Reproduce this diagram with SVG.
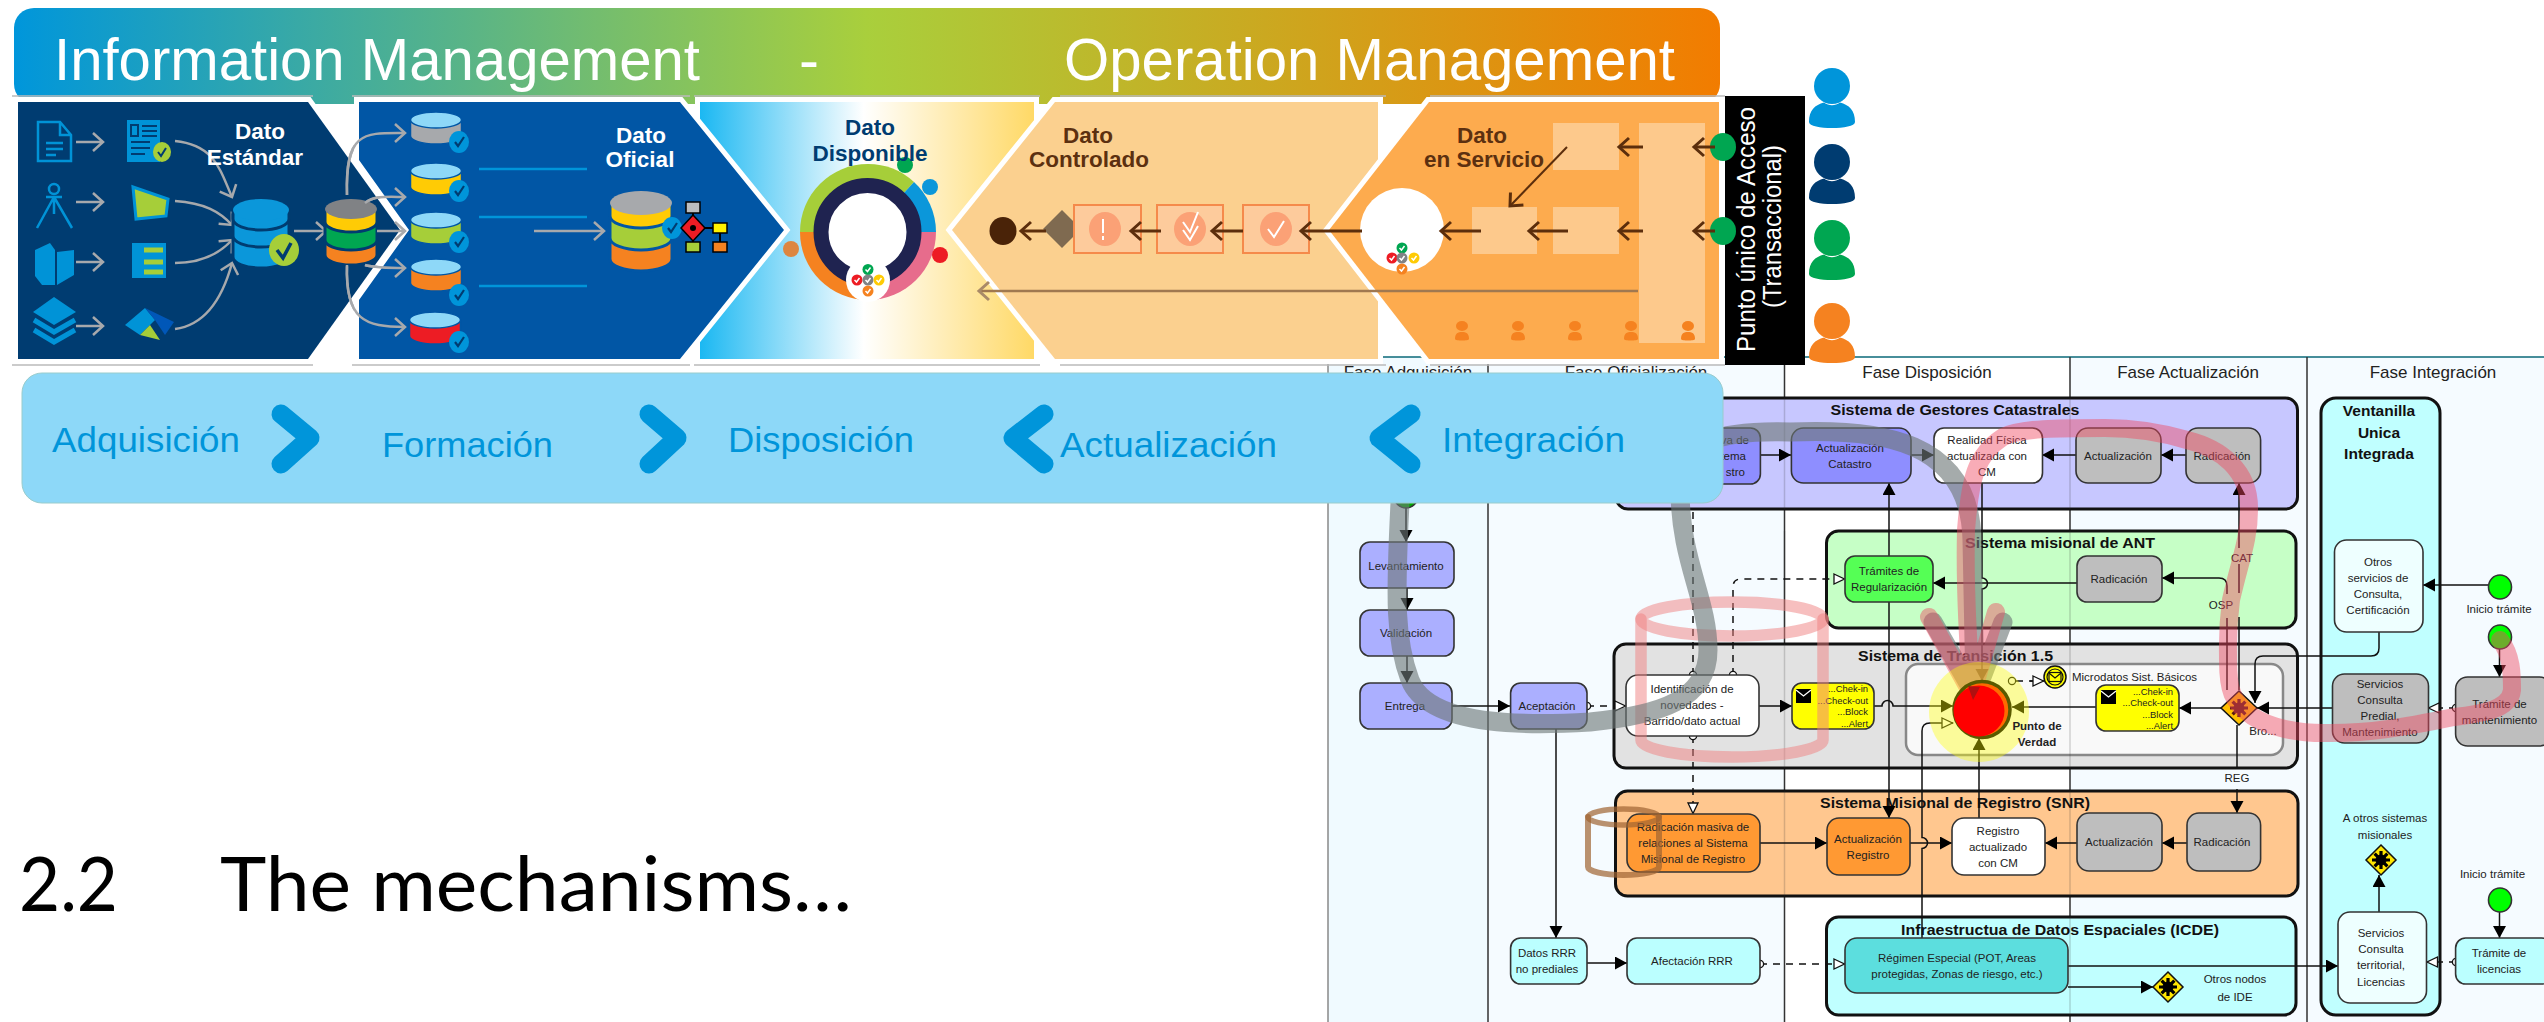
<svg xmlns="http://www.w3.org/2000/svg" width="2544" height="1022" viewBox="0 0 2544 1022">
<style>
text{font-family:"Liberation Sans",Arial,sans-serif}
.n{stroke:#333;stroke-width:1.6}
.sys{stroke:#111;stroke-width:3}
.t{font-size:11.5px;text-anchor:middle;fill:#222}
.tr{font-size:9.4px;text-anchor:end;fill:#222}
.tb{font-size:15.5px;font-weight:bold;text-anchor:middle;fill:#111}
.ph{font-size:17px;text-anchor:middle;fill:#222}
.big{font-size:60px;fill:#fff}
.stp{font-size:35px;fill:#0095DA}
.dw{font-size:22.5px;font-weight:bold;text-anchor:middle;fill:#fff}
.db{font-size:22.5px;font-weight:bold;text-anchor:middle;fill:#003C71}
.dbr{font-size:22.5px;font-weight:bold;text-anchor:middle;fill:#5C3010}
.lane{stroke:#333;stroke-width:1.5;fill:none}
.c{fill:none;stroke:#111;stroke-width:1.5}
.cd{fill:none;stroke:#111;stroke-width:1.5;stroke-dasharray:7 6}
.h{marker-end:url(#a)}
.o{marker-end:url(#ho)}
.s{marker-start:url(#ci)}
.ga{fill:none;stroke:#A7A9AC;stroke-width:2.5;marker-end:url(#og)}
.pw{stroke:#fff;stroke-width:10;stroke-linejoin:miter;paint-order:stroke}
.fr{stroke:#BBB;stroke-width:1.5;fill:none}
.chev{fill:none;stroke:#0095DA;stroke-width:19;stroke-linecap:round;stroke-linejoin:round}
.ic{fill:none;stroke:#0093D7;stroke-width:2.5}
.icf{fill:#0093D7}
.sq{fill:#FDC98C}
.sq2{fill:#FDCB9C;stroke:#F58A4B;stroke-width:2}
</style>
<defs>
<linearGradient id="hg" x1="0" x2="1" y1="0" y2="0"><stop offset="0" stop-color="#0096DB"/><stop offset=".5" stop-color="#A9CF3C"/><stop offset="1" stop-color="#F27C00"/></linearGradient>
<linearGradient id="p3" x1="0" x2="1" y1="0" y2="0"><stop offset="0" stop-color="#1BB8F2"/><stop offset=".49" stop-color="#FFFFFF"/><stop offset="1" stop-color="#FFD966"/></linearGradient>
<marker id="a" markerUnits="userSpaceOnUse" markerWidth="14" markerHeight="14" refX="12" refY="6.5" orient="auto"><path d="M0 0L12 6.5L0 13Z" fill="#000"/></marker>
<marker id="ho" markerUnits="userSpaceOnUse" markerWidth="14" markerHeight="14" refX="12" refY="6" orient="auto"><path d="M1 1L11.5 6L1 11Z" fill="#fff" stroke="#111" stroke-width="1.3"/></marker>
<marker id="ci" markerUnits="userSpaceOnUse" markerWidth="10" markerHeight="10" refX="5" refY="5" orient="auto"><circle cx="5" cy="5" r="3.6" fill="#fff" stroke="#111" stroke-width="1.3"/></marker>
<marker id="og" markerUnits="userSpaceOnUse" markerWidth="14" markerHeight="22" refX="12" refY="11" orient="auto"><path d="M2 2L12 11L2 20" fill="none" stroke="#A7A9AC" stroke-width="2.5"/></marker>
<marker id="ob2" markerUnits="userSpaceOnUse" markerWidth="16" markerHeight="24" refX="13" refY="12" orient="auto"><path d="M3 3L13 12L3 21" fill="none" stroke="#5C2E0C" stroke-width="3"/></marker>
<marker id="ob3" markerUnits="userSpaceOnUse" markerWidth="16" markerHeight="24" refX="13" refY="12" orient="auto"><path d="M3 3L13 12L3 21" fill="none" stroke="#A98A68" stroke-width="3"/></marker>
<g id="person"><circle cx="0" cy="0" r="18"/><path d="M-23 36C-23 24-17 19-8 16.500C-3 20 3 20 8 16.500C17 19 23 24 23 36C23 44-23 44-23 36Z"/></g>
<g id="pers2"><ellipse cx="0" cy="-5" rx="6" ry="5"/><path d="M-7 8C-7 2-4 1 0 1C4 1 7 2 7 8C7 10-7 10-7 8Z"/></g>
<g id="ck"><ellipse rx="10" ry="11" fill="#0095DA"/><path d="M-4 0L-1 4L5 -5" fill="none" stroke="#003C71" stroke-width="2.200"/></g>
<g id="ckw"><circle r="5.500"/><path d="M-2.500 0L-.5 2L2.500 -2" fill="none" stroke="#fff" stroke-width="1.500"/></g>
<g id="star"><path d="M0 -9V9M-9 0H9M-6.400 -6.400L6.400 6.400M-6.400 6.400L6.400 -6.400" fill="none" stroke-width="3.200"/><circle r="5"/></g>
<g id="env"><rect width="15" height="14" fill="#000"/><path d="M0 1L7.500 7L15 1" fill="none" stroke="#fff" stroke-width="1.300"/></g>
</defs>
<rect width="2544" height="1022" fill="#fff"/>

<g id="swimlanes">
<rect x="1328" y="357" width="160" height="665" fill="#F0FAFF"/>
<rect x="1488" y="357" width="296" height="665" fill="#F5FBFF"/>
<rect x="2070" y="357" width="237" height="665" fill="#F5FBFF"/>
<rect x="2307" y="357" width="237" height="665" fill="#F5FBFF"/>
<path d="M1328 357H2544" stroke="#0A6878" stroke-width="1.500" fill="none"/>
<path d="M1328 357V1022" stroke="#888" stroke-width="1.500" fill="none"/>
<path class="lane" d="M1488 357V1022M1784.500 357V1022M2070 357V1022M2307 357V1022"/>
<text class="ph" x="1408" y="378">Fase Adquisición</text>
<text class="ph" x="1636" y="378">Fase Oficialización</text>
<text class="ph" x="1927" y="378">Fase Disposición</text>
<text class="ph" x="2188" y="378">Fase Actualización</text>
<text class="ph" x="2433" y="378">Fase Integración</text>
</g>

<g id="sys-gestores"><rect class="sys" x="1616" y="398" width="681.500" height="111" rx="12" fill="#C7C7FF"/><text class="tb" x="1955" y="415" textLength="249" lengthAdjust="spacingAndGlyphs">Sistema de Gestores Catastrales</text></g>
<g id="sys-ant"><rect class="sys" x="1826.500" y="531" width="469.500" height="97" rx="12" fill="#C6FFC6"/><text class="tb" x="2060" y="548" textLength="190" lengthAdjust="spacingAndGlyphs">Sistema misional de ANT</text></g>
<g id="sys-transicion"><rect class="sys" x="1614" y="644" width="683.500" height="124" rx="12" fill="#E2E2E2"/><text class="tb" x="1955.500" y="661" textLength="195" lengthAdjust="spacingAndGlyphs">Sistema de Transición 1.5</text><rect x="1906" y="664" width="377" height="91" rx="12" fill="#F9F9F9" stroke="#888" stroke-width="2.500"/></g>
<g id="sys-snr"><rect class="sys" x="1615.500" y="791" width="682.500" height="105" rx="12" fill="#FFC78F"/><text class="tb" x="1955" y="808" textLength="270" lengthAdjust="spacingAndGlyphs">Sistema Misional de Registro (SNR)</text></g>
<g id="sys-icde"><rect class="sys" x="1826.500" y="917" width="469.500" height="98" rx="12" fill="#C0FFFF"/><text class="tb" x="2060" y="935" textLength="318" lengthAdjust="spacingAndGlyphs">Infraestructua de Datos Espaciales (ICDE)</text></g>
<g id="sys-ventanilla"><rect class="sys" x="2321" y="398" width="119" height="617" rx="15" fill="#C0FFFF"/><text class="tb" x="2379" y="416">Ventanilla</text><text class="tb" x="2379" y="438">Unica</text><text class="tb" x="2379" y="459">Integrada</text></g>
<path id="lane-ghost" d="M1784.500 398V509M1784.500 531V628M1784.500 644V768M1784.500 791V896M2070 398V509M2070 531V628M2070 644V768M2070 791V896M2070 917V1015" stroke="#333" stroke-opacity=".2" stroke-width="1.500" fill="none"/>

<g id="connectors">
<path class="c h" d="M1406 503V542"/>
<path class="c h" d="M1407 588V610"/>
<path class="c h" d="M1407 656V683"/>
<path class="c h" d="M1452 706H1510"/>
<path class="cd o s" d="M1587 706H1626"/>
<path class="c h" d="M1556 729V938"/>
<path class="c h" d="M1587 963H1627"/>
<path class="cd o s" d="M1760 964H1845"/>
<path class="cd s" d="M1693 675V509"/>
<path class="cd o s" d="M1733 675V587Q1733 579 1741 579H1845"/>
<path class="cd o s" d="M1693 736V814"/>
<path class="c h" d="M1759 706H1792"/>
<path class="c h" d="M1874 706H1882a5 5 0 0 1 11 0H1953"/>
<path class="c h" d="M2096 707H2012"/>
<path class="c h" d="M2221 708H2179"/>
<path class="c h" d="M1979 818V738"/>
<path class="c h" d="M1982 483V578a5 5 0 0 1 0 11V681"/>
<path class="c o" d="M1922 938V848.500a5 5 0 0 0 0 -11V731Q1922 723 1930 723H1953"/>
<path class="c h" d="M2077 583H1933"/>
<path class="c h" d="M1889 556V483"/>
<path class="c h" d="M1889 602V818"/>
<path class="c" d="M2239 593V564"/>
<path class="c h" d="M2239 548V483"/>
<path class="c" d="M2239 690V617"/>
<path class="c" d="M2227 690V618"/>
<path class="c h" d="M2227 594V586Q2227 578 2219 578H2162"/>
<path class="c" d="M2237 725V768"/>
<path class="c h" d="M2237 789V813"/>
<path class="c h" d="M2187 843H2162"/>
<path class="c h" d="M2077 843H2045"/>
<path class="c h" d="M1910 843H1952"/>
<path class="c h" d="M1760 843H1827"/>
<path class="c h" d="M1760 455H1791"/>
<path class="c h" d="M1911 455H1934"/>
<path class="c h" d="M2076 455H2042"/>
<path class="c h" d="M2186 455H2161"/>
<path class="c h" d="M2488 585H2423"/>
<path class="c h" d="M2379 632V648Q2379 656 2371 656H2263Q2255 656 2255 664V703"/>
<path class="c h" d="M2332 708H2257"/>
<path class="cd o s" d="M2456 708H2428"/>
<path class="c h" d="M2499.500 649V677"/>
<path class="c h" d="M2499.500 912V938"/>
<path class="cd o s" d="M2456 962H2426.500"/>
<path class="c h" d="M2068 966H2338"/>
<path class="c h" d="M2068 987H2153"/>
<path class="c h" d="M2379 912V875"/>
<path class="cd" d="M2016 681H2034"/>
<path class="c o" d="M2030 681H2044"/>
</g>

<g id="node-levantamiento"><rect class="n" x="1360" y="542" width="94" height="46" rx="10" fill="#ABAFFF"/><text class="t" x="1406" y="570">Levantamiento</text></g>
<g id="node-validacion"><rect class="n" x="1360" y="610" width="94" height="46" rx="10" fill="#ABAFFF"/><text class="t" x="1406" y="637">Validación</text></g>
<g id="node-entrega"><rect class="n" x="1360" y="683" width="92" height="46" rx="10" fill="#ABAFFF"/><text class="t" x="1405" y="710">Entrega</text></g>
<g id="node-aceptacion"><rect class="n" x="1510.600" y="683" width="76.400" height="46" rx="10" fill="#ABAFFF"/><text class="t" x="1547" y="710">Aceptación</text></g>
<g id="node-identificacion"><rect class="n" x="1626" y="675" width="133" height="61" rx="12" fill="#fff"/><text class="t" x="1692" y="693">Identificación de</text><text class="t" x="1692" y="709">novedades -</text><text class="t" x="1692" y="725">Barrido/dato actual</text></g>
<g id="node-masiva-cat"><rect class="n" x="1626" y="428" width="134.400" height="56" rx="10" fill="#8E8EFF"/><text class="t" x="1749" y="444" style="text-anchor:end">va de</text><text class="t" x="1746" y="460" style="text-anchor:end">tema</text><text class="t" x="1745" y="476" style="text-anchor:end">stro</text></g>
<g id="node-act-catastro"><rect class="n" x="1791.400" y="428" width="119.600" height="55" rx="12" fill="#8E8EFF"/><text class="t" x="1850" y="452">Actualización</text><text class="t" x="1850" y="468">Catastro</text></g>
<g id="node-realidad"><rect class="n" x="1934" y="428" width="108.500" height="55" rx="10" fill="#fff"/><text class="t" x="1987" y="444">Realidad Física</text><text class="t" x="1987" y="460">actualizada con</text><text class="t" x="1987" y="476">CM</text></g>
<g id="node-act-gest"><rect class="n" x="2076" y="428" width="85" height="55" rx="12" fill="#BEBEBE"/><text class="t" x="2118" y="460">Actualización</text></g>
<g id="node-rad-gest"><rect class="n" x="2186" y="428" width="74.600" height="55" rx="12" fill="#BEBEBE"/><text class="t" x="2222" y="460">Radicación</text></g>
<g id="node-tramites"><rect class="n" x="1845" y="556" width="88" height="46" rx="10" fill="#55FF55"/><text class="t" x="1889" y="575">Trámites de</text><text class="t" x="1889" y="591">Regularización</text></g>
<g id="node-rad-ant"><rect class="n" x="2077" y="556" width="85" height="46" rx="10" fill="#BEBEBE"/><text class="t" x="2119" y="583">Radicación</text></g>
<g id="node-yellow1"><rect class="n" x="1792" y="683" width="82" height="46" rx="10" fill="#FF0"/><use href="#env" x="1796" y="689"/><text class="tr" x="1868" y="692">...Chek-in</text><text class="tr" x="1868" y="704">...Check-out</text><text class="tr" x="1868" y="715">...Block</text><text class="tr" x="1868" y="727">...Alert</text></g>
<g id="node-yellow2"><rect class="n" x="2096" y="685" width="83" height="46" rx="10" fill="#FF0"/><use href="#env" x="2101" y="690"/><text class="tr" x="2173" y="695">...Chek-in</text><text class="tr" x="2173" y="706">...Check-out</text><text class="tr" x="2173" y="718">...Block</text><text class="tr" x="2173" y="729">...Alert</text></g>
<g id="node-masiva"><rect class="n" x="1627" y="814" width="133" height="58" rx="12" fill="#FF9933"/><text class="t" x="1693" y="831">Radicación masiva de</text><text class="t" x="1693" y="847">relaciones al Sistema</text><text class="t" x="1693" y="863">Misional de Registro</text></g>
<g id="node-act-registro"><rect class="n" x="1827" y="818" width="83" height="57" rx="12" fill="#FF9933"/><text class="t" x="1868" y="843">Actualización</text><text class="t" x="1868" y="859">Registro</text></g>
<g id="node-registro"><rect class="n" x="1952" y="818" width="93" height="57" rx="12" fill="#fff"/><text class="t" x="1998" y="835">Registro</text><text class="t" x="1998" y="851">actualizado</text><text class="t" x="1998" y="867">con CM</text></g>
<g id="node-act-snr"><rect class="n" x="2077" y="813" width="85" height="58" rx="12" fill="#BEBEBE"/><text class="t" x="2119" y="846">Actualización</text></g>
<g id="node-rad-snr"><rect class="n" x="2187" y="813" width="73.600" height="58" rx="12" fill="#BEBEBE"/><text class="t" x="2222" y="846">Radicación</text></g>
<g id="node-datos"><rect class="n" x="1510.600" y="938" width="76.400" height="46" rx="10" fill="#BBFFFF"/><text class="t" x="1547" y="957">Datos RRR</text><text class="t" x="1547" y="973">no prediales</text></g>
<g id="node-afectacion"><rect class="n" x="1627" y="938" width="133" height="46" rx="10" fill="#BBFFFF"/><text class="t" x="1692" y="965">Afectación RRR</text></g>
<g id="node-regimen"><rect class="n" x="1845" y="938" width="223" height="55" rx="12" fill="#5CDEDE"/><text class="t" x="1957" y="962">Régimen Especial (POT, Areas</text><text class="t" x="1957" y="978">protegidas, Zonas de riesgo, etc.)</text></g>
<g id="node-otros"><rect class="n" x="2334.500" y="540" width="88.500" height="92" rx="12" fill="#EEFFFF"/><text class="t" x="2378" y="566">Otros</text><text class="t" x="2378" y="582">servicios de</text><text class="t" x="2378" y="598">Consulta,</text><text class="t" x="2378" y="614">Certificación</text></g>
<g id="node-predial"><rect class="n" x="2332.500" y="674" width="96" height="69" rx="12" fill="#BEBEBE"/><text class="t" x="2380" y="688">Servicios</text><text class="t" x="2380" y="704">Consulta</text><text class="t" x="2380" y="720">Predial,</text><text class="t" x="2380" y="736">Mantenimiento</text></g>
<g id="node-tram-mant"><rect class="n" x="2455.600" y="677" width="96" height="69" rx="12" fill="#BEBEBE"/><text class="t" x="2499.500" y="708">Trámite de</text><text class="t" x="2499.500" y="724">mantenimiento</text></g>
<g id="node-territorial"><rect class="n" x="2338" y="912" width="88.500" height="91" rx="12" fill="#EEFFFF"/><text class="t" x="2381" y="937">Servicios</text><text class="t" x="2381" y="953">Consulta</text><text class="t" x="2381" y="969">territorial,</text><text class="t" x="2381" y="986">Licencias</text></g>
<g id="node-tram-lic"><rect class="n" x="2455.600" y="938" width="96" height="46" rx="10" fill="#BBFFFF"/><text class="t" x="2499" y="957">Trámite de</text><text class="t" x="2499" y="973">licencias</text></g>
<g id="event-1"><ellipse class="n" cx="2500" cy="587" rx="11.500" ry="12" fill="#0F0"/><text class="t" x="2499" y="613">Inicio trámite</text></g>
<g id="event-2"><ellipse class="n" cx="2500" cy="637" rx="11.500" ry="12" fill="#0F0"/></g>
<g id="event-3"><ellipse class="n" cx="2500" cy="900" rx="11.500" ry="12" fill="#0F0"/><text class="t" x="2492.500" y="878">Inicio trámite</text></g>
<g id="event-0"><ellipse class="n" cx="1406" cy="497" rx="11.500" ry="11" fill="#0A0"/></g>
<g id="gate-bro"><path d="M2239 691L2257 708L2239 725L2221 708Z" fill="#FFBF00" stroke="#111" stroke-width="1.500"/><use href="#star" x="2239" y="708" fill="#5A1A10" stroke="#5A1A10"/><text class="t" x="2263" y="735">Bro...</text></g>
<g id="gate-otros-sist"><path d="M2381 845L2396 860L2381 875L2366 860Z" fill="#FFE600" stroke="#111" stroke-width="1.500"/><use href="#star" x="2381" y="860" fill="#000" stroke="#000"/><text class="t" x="2385" y="822">A otros sistemas</text><text class="t" x="2385" y="839">misionales</text></g>
<g id="gate-otros-nodos"><path d="M2168 972L2183 987L2168 1002L2153 987Z" fill="#FFE600" stroke="#111" stroke-width="1.500"/><use href="#star" x="2168" y="987" fill="#000" stroke="#000"/><text class="t" x="2235" y="983">Otros nodos</text><text class="t" x="2235" y="1001">de IDE</text></g>
<g id="lbl-cat"><text class="t" x="2242" y="562">CAT</text></g>
<g id="lbl-osp"><text class="t" x="2221" y="609">OSP</text></g>
<g id="lbl-reg"><text class="t" x="2237" y="782">REG</text></g>
<g id="event-micro"><circle cx="2055" cy="677" r="11" fill="#FF0" stroke="#111" stroke-width="1.500"/><circle cx="2055" cy="677" r="8" fill="none" stroke="#111" stroke-width="1.200"/><rect x="2049" y="672.500" width="12" height="9" fill="#FF0" stroke="#111" stroke-width="1.200"/><path d="M2049 673L2055 678L2061 673" fill="none" stroke="#111" stroke-width="1.200"/><circle cx="2012" cy="681" r="3.600" fill="none" stroke="#111" stroke-width="1.200"/><text class="t" x="2134.500" y="681" textLength="125" lengthAdjust="spacingAndGlyphs">Microdatos Sist. Básicos</text></g>

<g id="overlays" fill="none" stroke-linecap="round">
<path d="M1641 619V740A91 17 0 0 0 1823 740V619" stroke="#F08080" stroke-opacity=".5" stroke-width="11.500"/>
<ellipse cx="1732" cy="619" rx="91" ry="17" stroke="#F08080" stroke-opacity=".5" stroke-width="11.500"/>
<path d="M1588 817V867A35.500 8 0 0 0 1659 867V817" stroke="#A06432" stroke-opacity=".7" stroke-width="6"/>
<ellipse cx="1623.500" cy="817" rx="35.500" ry="8" stroke="#A06432" stroke-opacity=".7" stroke-width="5.500"/>
<path d="M1400 503C1395 600 1395 640 1410 680C1430 730 1540 725 1590 722C1660 715 1708 700 1708 650C1708 600 1680 560 1680 490C1680 440 1720 430 1790 432C1880 428 1970 440 1972 540L1975 690M1933 622L1975 695L2003 622" stroke="#6E7878" stroke-opacity=".62" stroke-width="19" stroke-linejoin="round"/>
<path d="M2500 640C2512 655 2512 675 2512 690C2510 710 2480 714 2454 717C2400 728 2370 733 2331 733C2300 734 2270 728 2252 716C2232 702 2228 690 2228 660C2228 640 2227 630 2231 600C2240 560 2249 540 2249 510C2250 470 2220 448 2187 440C2160 432 2130 428 2105 428C2060 428 2020 428 2003 437C1975 455 1970 480 1966 530C1965 570 1966 620 1972 695M1929 617L1972 695L1996 612" stroke="#F04660" stroke-opacity=".45" stroke-width="18" stroke-linejoin="round"/>
</g>

<g id="node-punto">
<circle cx="1979" cy="712" r="50" fill="#FF0" fill-opacity=".38"/>
<circle cx="1982" cy="709.500" r="28" fill="#FF6A00" stroke="#5A5A00" stroke-width="3.500"/>
<circle cx="1979" cy="711" r="25.500" fill="#F00"/>
<path d="M1968 686L1980 687L1973 700Z" fill="#B01010"/>
<text class="t" x="2037" y="730" style="font-weight:bold">Punto de</text>
<text class="t" x="2037" y="746" style="font-weight:bold">Verdad</text>
</g>

<g id="header">
<rect x="14" y="8" width="1706" height="96" rx="20" fill="url(#hg)"/>
<text class="big" x="54" y="80" textLength="646" lengthAdjust="spacingAndGlyphs">Information Management</text>
<text class="big" x="799" y="80">-</text>
<text class="big" x="1064" y="80" textLength="611" lengthAdjust="spacingAndGlyphs">Operation Management</text>
</g>

<g id="panel-estandar">
<polygon class="pw" points="18,102 308,102 400,230 308,359 18,359" fill="#003C71"/>
<path class="fr" d="M12 96H313M12 365H313"/>
<path class="ic" d="M38 122H60L71 135V161H38ZM60 122V135H71M46 143H63M46 149H63M46 155H56"/>
<circle class="ic" cx="54" cy="189" r="5"/><path class="ic" d="M46 197H62M54 197L37 228M54 197L72 228M54 197V214"/>
<path class="icf" d="M35 250L50 243L55 250V285L42 285L35 276Z"/><path class="icf" d="M57 252L74 250V275L57 285Z"/>
<path class="icf" d="M54 297L76 312L54 325L33 312Z"/><path class="ic" d="M34 320L54 332L75 320M34 330L54 342L75 330" style="stroke-width:5"/>
<path class="ga" d="M76 142H103"/><path class="ga" d="M76 202H103"/><path class="ga" d="M76 262H103"/><path class="ga" d="M76 326H103"/>
<rect class="icf" x="127" y="120" width="33" height="42"/><path d="M131 125H138V136H131ZM142 126H157M142 131H157M142 136H157M131 142H150M131 148H150M131 154H145" fill="none" stroke="#003C71" stroke-width="2"/>
<ellipse cx="162" cy="152" rx="9" ry="10" fill="#A6CE39"/><path d="M158 152L161 156L166 148" fill="none" stroke="#003C71" stroke-width="2"/>
<path d="M133 187L168 199L166 216L136 219Z" fill="#A6CE39" stroke="#0093D7" stroke-width="3"/>
<rect class="icf" x="132" y="243" width="34" height="35"/><path d="M144 250H163M144 262H163M144 272H163" stroke="#A6CE39" stroke-width="5" fill="none"/>
<path class="icf" d="M125 325L145 308L155 320L140 335Z"/><path d="M145 308L174 322L165 335L155 320Z" fill="#0057B8"/><path d="M140 335L150 325L160 340Z" fill="#A6CE39"/>
<path class="ga" d="M175 141C215 145 220 170 232 197"/><path class="ga" d="M175 201C205 203 220 212 232 225"/><path class="ga" d="M175 263C200 263 218 255 232 240"/><path class="ga" d="M175 329C205 325 222 300 232 263"/>
<g stroke="#003C71" stroke-width="3" fill="#0B97DA"><path d="M233 230V257A28 11 0 0 0 289 257V230Z"/><path d="M233 215V236A28 11 0 0 0 289 236V215Z"/><path d="M233 210V219A28 11 0 0 0 289 219V210Z"/><ellipse cx="261" cy="210" rx="28" ry="11" stroke="none"/></g>
<ellipse cx="284" cy="250" rx="15" ry="16" fill="#A6CE39"/><path d="M277 250L283 258L291 243" fill="none" stroke="#003C71" stroke-width="3.500"/>
<path class="ga" d="M294 231H326"/>
<text class="dw" x="260" y="139">Dato</text><text class="dw" x="255" y="165">Estándar</text>
</g>

<rect id="panel-disponible-bg" class="pw" x="700" y="102" width="334" height="257" fill="url(#p3)"/>
<path class="fr" d="M694 96H1040M694 365H1040"/>

<g id="panel-oficial">
<g fill="none"><path d="M347 195C345 130 365 133 405 133" class="ga"/><path d="M365 203C375 195 390 197 405 197" class="ga"/><path d="M347 265C345 320 365 327 405 327" class="ga"/><path d="M365 265C375 268 390 268 405 268" class="ga"/></g>
<polygon class="pw" points="359,102 680,102 784,230 680,359 359,359 359,300 409,230 359,160" fill="#0156A5"/>
<path class="fr" d="M352 96H690M352 365H690"/>
<g id="db-stack" stroke="#003C71" stroke-width="3"><path d="M325 240V255A26 10 0 0 0 377 255V240Z" fill="#F58220"/><path d="M325 222V240A26 10 0 0 0 377 240V222Z" fill="#00A651"/><path d="M325 209V222A26 10 0 0 0 377 222V209Z" fill="#FFCB05"/><ellipse cx="351" cy="209" rx="26" ry="10" fill="#808285" stroke="none"/></g>
<path class="ga" d="M347 195C345 130 365 133 405 133"/><path class="ga" d="M365 203C375 195 390 197 405 197"/><path class="ga" d="M377 231H405"/><path class="ga" d="M365 265C375 268 390 268 405 268"/><path class="ga" d="M347 265C345 320 365 327 405 327"/>
<g stroke="#0156A5" stroke-width="1.500">
<path d="M410.500 120V136A25.500 8 0 0 0 461.500 136V120Z" fill="#A7A9AC"/><ellipse cx="436" cy="120" rx="25.500" ry="8" fill="#8ED8F8"/>
<path d="M410.500 171V187A25.500 8 0 0 0 461.500 187V171Z" fill="#FFCB05"/><ellipse cx="436" cy="171" rx="25.500" ry="8" fill="#8ED8F8"/>
<path d="M410.500 220V236A25.500 8 0 0 0 461.500 236V220Z" fill="#A6CE39"/><ellipse cx="436" cy="220" rx="25.500" ry="8" fill="#8ED8F8"/>
<path d="M410.500 267V283A25.500 8 0 0 0 461.500 283V267Z" fill="#F58220"/><ellipse cx="436" cy="267" rx="25.500" ry="8" fill="#8ED8F8"/>
<path d="M409.500 320V336A25.500 8 0 0 0 460.500 336V320Z" fill="#ED1C24"/><ellipse cx="435" cy="320" rx="25.500" ry="8" fill="#8ED8F8"/>
</g>
<use href="#ck" x="459" y="142"/><use href="#ck" x="459" y="191"/><use href="#ck" x="459" y="242"/><use href="#ck" x="459" y="295"/><use href="#ck" x="459" y="342"/>
<path d="M479 169H587M479 217H587M479 286H587" stroke="#0095DA" stroke-width="2.500" fill="none"/>
<path class="ga" d="M534 231H604"/>
<g stroke="#0156A5" stroke-width="3"><path d="M610 240V259A31 12 0 0 0 672 259V240Z" fill="#F58220"/><path d="M610 218V238A31 12 0 0 0 672 238V218Z" fill="#A6CE39"/><path d="M610 203V216A31 12 0 0 0 672 216V203Z" fill="#FFCB05"/><ellipse cx="641" cy="203" rx="31" ry="12" fill="#A7A9AC" stroke="none"/></g>
<use href="#ck" x="672" y="228"/>
<path d="M693 207V247M693 228H720M720 228V247" stroke="#000" stroke-width="2" fill="none"/>
<path d="M693 215L705 228L693 241L681 228Z" fill="#ED1C24" stroke="#000" stroke-width="1.500"/>
<circle cx="693" cy="228" r="3" fill="#000"/>
<rect x="686" y="202" width="14" height="11" fill="#BCBEC0" stroke="#000" stroke-width="1.500"/>
<rect x="713" y="223" width="14" height="10" fill="#FFF200" stroke="#000" stroke-width="1.500"/>
<rect x="686" y="242" width="14" height="10" fill="#A6CE39" stroke="#000" stroke-width="1.500"/>
<rect x="713" y="242" width="14" height="10" fill="#F58220" stroke="#000" stroke-width="1.500"/>
<text class="dw" x="641" y="143">Dato</text><text class="dw" x="640" y="167">Oficial</text>
</g>

<g id="panel-disponible">
<path d="M868 164A68 68 0 0 0 800 232H868Z" fill="#A6CE39"/>
<path d="M868 164A68 68 0 0 1 914 182L868 232Z" fill="#A6CE39"/>
<path d="M914 182A68 68 0 0 1 936 232H868Z" fill="#0B97DA"/>
<path d="M936 232A68 68 0 0 1 868 300V232Z" fill="#E76C8C"/>
<path d="M868 300A68 68 0 0 1 800 232H868Z" fill="#F58220"/>
<circle cx="867.500" cy="232" r="46.500" fill="#fff" stroke="#1F2350" stroke-width="15"/>
<circle cx="868" cy="280" r="22" fill="#fff"/>
<use href="#ckw" x="868" y="269.500" fill="#00A651"/><use href="#ckw" x="857" y="280" fill="#ED1C24"/><use href="#ckw" x="868" y="280" fill="#808285"/><use href="#ckw" x="879" y="280" fill="#FFCB05"/><use href="#ckw" x="868" y="291" fill="#F58220"/>
<circle cx="905" cy="165" r="8" fill="#00A651"/><circle cx="930" cy="187" r="8" fill="#0B97DA"/><circle cx="940" cy="255" r="8" fill="#ED1C24"/><circle cx="791" cy="249" r="8" fill="#DD8640"/>
<text class="db" x="870" y="135">Dato</text><text class="db" x="870" y="161">Disponible</text>
</g>

<g id="panel-controlado">
<polygon class="pw" points="952,230 1055,102 1378,102 1378,359 1055,359" fill="#FBD08F"/>
<path class="fr" d="M1060 96H1386M1060 365H1386"/>
<text class="dbr" x="1088" y="143">Dato</text><text class="dbr" x="1089" y="167">Controlado</text>
<ellipse cx="1003" cy="231" rx="13.500" ry="14" fill="#4A2308"/>
<path d="M1062 210L1081 229L1062 248L1043 229Z" fill="#7F6A50"/>
<rect class="sq2" x="1074" y="205" width="67" height="48"/><rect class="sq2" x="1157" y="205" width="66" height="48"/><rect class="sq2" x="1243" y="205" width="66" height="48"/>
<ellipse cx="1105" cy="229" rx="16" ry="17" fill="#FBA176"/><ellipse cx="1190" cy="229" rx="16" ry="17" fill="#FBA176"/><ellipse cx="1276" cy="229" rx="16" ry="17" fill="#FBA176"/>
<path d="M1103 219V233M1103 236V240" stroke="#fff" stroke-width="2" fill="none"/>
<path d="M1183 222L1190 232L1198 212M1183 230L1190 240L1198 226M1268 229L1274 237L1284 221" stroke="#fff" stroke-width="2" fill="none"/>
</g>

<g id="panel-servicio">
<polygon class="pw" points="1329,230 1429,102 1719,102 1719,359 1429,359" fill="#FDAB4E"/>
<path class="fr" d="M1430 96H1725M1430 365H1725"/>
<rect class="sq" x="1639" y="123" width="66" height="220"/>
<rect class="sq" x="1553" y="123" width="66" height="47"/>
<rect class="sq" x="1553" y="207" width="66" height="47"/>
<rect class="sq" x="1472" y="207" width="65" height="47"/>
<ellipse cx="1402" cy="230" rx="42" ry="42" fill="#fff"/>
<use href="#ckw" x="1402" y="248" fill="#00A651"/><use href="#ckw" x="1392" y="258" fill="#ED1C24"/><use href="#ckw" x="1402" y="258" fill="#808285"/><use href="#ckw" x="1414" y="258" fill="#FFCB05"/><use href="#ckw" x="1402" y="269" fill="#F58220"/>
<text class="dbr" x="1482" y="143">Dato</text><text class="dbr" x="1484" y="167">en Servicio</text>
<g fill="#F58220"><use href="#pers2" x="1462" y="331"/><use href="#pers2" x="1518" y="331"/><use href="#pers2" x="1575" y="331"/><use href="#pers2" x="1631" y="331"/><use href="#pers2" x="1688" y="331"/></g>
</g>

<g id="access">
<rect x="1725" y="96" width="80" height="269" fill="#000"/>
<ellipse cx="1723" cy="147" rx="13" ry="14" fill="#00A651"/>
<ellipse cx="1723" cy="231" rx="13" ry="14" fill="#00A651"/>
<text transform="translate(1755 352) rotate(-90)" font-size="25" fill="#fff" textLength="245" lengthAdjust="spacingAndGlyphs">Punto único de Acceso</text>
<text transform="translate(1781 308) rotate(-90)" font-size="25" fill="#fff" textLength="163" lengthAdjust="spacingAndGlyphs">(Transaccional)</text>
</g>

<g id="panel-flow-arrows" fill="none" stroke="#5C2E0C" stroke-width="3">
<path d="M1046 231H1021" marker-end="url(#ob2)"/>
<path d="M1161 231H1131" marker-end="url(#ob2)"/>
<path d="M1243 231H1212" marker-end="url(#ob2)"/>
<path d="M1362 231H1301" marker-end="url(#ob2)"/>
<path d="M1481 231H1441" marker-end="url(#ob2)"/>
<path d="M1568 231H1529" marker-end="url(#ob2)"/>
<path d="M1643 231H1619" marker-end="url(#ob2)"/>
<path d="M1643 147H1619" marker-end="url(#ob2)"/>
<path d="M1715 231H1694" marker-end="url(#ob2)"/>
<path d="M1715 147H1694" marker-end="url(#ob2)"/>
<path d="M1567 147L1510 206" stroke-width="2" marker-end="url(#ob2)"/>
<path d="M1638 291H979" stroke="#A07850" stroke-width="2.500" marker-end="url(#ob3)"/>
</g>

<g id="persons">
<use href="#person" x="1832" y="86" fill="#0095DA"/>
<use href="#person" x="1832" y="162" fill="#003C71"/>
<use href="#person" x="1832" y="238" fill="#00A651"/>
<use href="#person" x="1832" y="321" fill="#F58220"/>
</g>

<g id="band">
<rect x="22" y="373" width="1701" height="130" rx="20" fill="#8DD8F8" stroke="#9CC" stroke-width="1"/>
<path class="chev" d="M281 414L310 438L281 464"/>
<path class="chev" d="M649 414L677 438L649 464"/>
<path class="chev" d="M1044 414L1013 438L1044 464"/>
<path class="chev" d="M1411 414L1379 438L1411 464"/>
<text class="stp" x="52" y="452" textLength="188" lengthAdjust="spacingAndGlyphs">Adquisición</text>
<text class="stp" x="382" y="457" textLength="171" lengthAdjust="spacingAndGlyphs">Formación</text>
<text class="stp" x="728" y="452" textLength="186" lengthAdjust="spacingAndGlyphs">Disposición</text>
<text class="stp" x="1060" y="457" textLength="217" lengthAdjust="spacingAndGlyphs">Actualización</text>
<text class="stp" x="1442" y="452" textLength="183" lengthAdjust="spacingAndGlyphs">Integración</text>
</g>

<g id="title">
<text x="19" y="911" font-size="75" style="font-family:Lato,'Open Sans',sans-serif" fill="#000" textLength="99" lengthAdjust="spacingAndGlyphs">2.2</text>
<text x="220" y="911" font-size="75" style="font-family:Lato,'Open Sans',sans-serif" fill="#000" textLength="632" lengthAdjust="spacingAndGlyphs">The mechanisms…</text>
</g>
</svg>
